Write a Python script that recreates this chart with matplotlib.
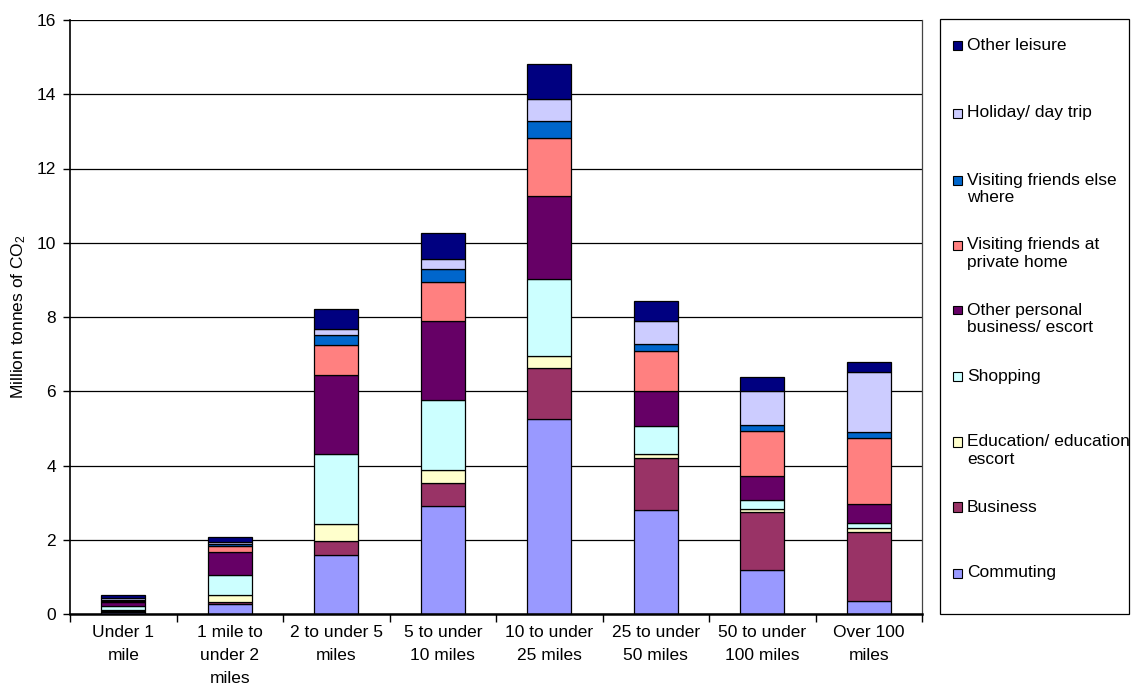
import matplotlib
matplotlib.use("Agg")
import matplotlib.pyplot as plt
import numpy as np
from matplotlib.patches import Rectangle

plt.rcParams["font.family"] = ["Liberation Sans", "DejaVu Sans"]
plt.rcParams["mathtext.default"] = "regular"

categories = [
    "Under 1\nmile",
    "1 mile to\nunder 2\nmiles",
    "2 to under 5\nmiles",
    "5 to under\n10 miles",
    "10 to under\n25 miles",
    "25 to under\n50 miles",
    "50 to under\n100 miles",
    "Over 100\nmiles",
]

# Emissions by journey purpose (million tonnes CO2), bottom of stack first
commuting       = [0.05, 0.26, 1.60, 2.91, 5.25, 2.81, 1.19, 0.35]
business        = [0.03, 0.07, 0.37, 0.62, 1.37, 1.38, 1.57, 1.87]
education       = [0.03, 0.19, 0.45, 0.36, 0.33, 0.11, 0.07, 0.09]
shopping        = [0.10, 0.52, 1.88, 1.88, 2.08, 0.76, 0.25, 0.15]
other_personal  = [0.10, 0.63, 2.13, 2.13, 2.24, 0.95, 0.65, 0.50]
friends_home    = [0.05, 0.15, 0.81, 1.03, 1.56, 1.08, 1.21, 1.77]
friends_else    = [0.03, 0.07, 0.27, 0.36, 0.45, 0.19, 0.16, 0.16]
holiday         = [0.03, 0.04, 0.18, 0.26, 0.58, 0.62, 0.91, 1.64]
other_leisure   = [0.08, 0.14, 0.52, 0.72, 0.96, 0.54, 0.37, 0.26]

series = [
    ("Commuting", commuting, "#9999FF"),
    ("Business", business, "#993366"),
    ("Education/ education\nescort", education, "#FFFFCC"),
    ("Shopping", shopping, "#CCFFFF"),
    ("Other personal\nbusiness/ escort", other_personal, "#660066"),
    ("Visiting friends at\nprivate home", friends_home, "#FF8080"),
    ("Visiting friends else\nwhere", friends_else, "#0066CC"),
    ("Holiday/ day trip", holiday, "#CCCCFF"),
    ("Other leisure", other_leisure, "#000080"),
]

W, H = 1133, 691
fig = plt.figure(figsize=(W / 100, H / 100), dpi=100)
ax = fig.add_axes([70 / W, 1 - 614 / H, (922 - 70) / W, (614 - 20) / H])

x = np.arange(len(categories))
bottom = np.zeros(len(categories))
for name, vals, color in series:
    vals = np.array(vals)
    ax.bar(x, vals, width=0.41, bottom=bottom, color=color,
           edgecolor="#000000", linewidth=0.9, zorder=3)
    bottom += vals

ax.set_xlim(-0.5, len(categories) - 0.5)
ax.set_ylim(0, 16)
ax.set_yticks(np.arange(0, 17, 2))
ax.set_xticks(x)
ax.set_xticklabels(categories, fontsize=12.5, linespacing=1.65)
ax.set_xticks(np.arange(-0.5, len(categories), 1), minor=True)
ax.tick_params(axis="x", which="major", length=0, pad=8)
ax.tick_params(axis="x", which="minor", length=6, width=1, direction="out", color="#000000")
ax.tick_params(axis="y", length=5, width=1, direction="out", labelsize=12.5, pad=5)

ax.yaxis.grid(True, color="#000000", linewidth=0.9, zorder=0)
ax.set_axisbelow(True)
ax.spines["top"].set_visible(False)
ax.spines["left"].set_color("#000000")
ax.spines["left"].set_linewidth(1.2)
ax.spines["bottom"].set_color("#000000")
ax.spines["bottom"].set_linewidth(1.8)
ax.spines["bottom"].set_zorder(4)
ax.spines["right"].set_color("#444444")
ax.spines["right"].set_linewidth(0.9)

ax.set_ylabel("Million tonnes of CO$_2$", fontsize=12.5, labelpad=6)

# Legend panel drawn in figure pixel space
def fx(px):
    return px / W

def fy(py):
    return 1 - py / H

fig.patches.append(Rectangle((fx(940), fy(614)), fx(1129) - fx(940), fy(19) - fy(614),
                             transform=fig.transFigure, facecolor="white",
                             edgecolor="#000000", linewidth=0.9))

legend_rows = [45, 113, 180, 245, 310, 376, 442, 507, 573]
for (name, vals, color), ypx in zip(series[::-1], legend_rows):
    fig.patches.append(Rectangle((fx(953), fy(ypx + 4.5)), fx(962) - fx(953), fy(ypx - 4.5) - fy(ypx + 4.5),
                                 transform=fig.transFigure, facecolor=color,
                                 edgecolor="#000000", linewidth=0.8))
    lines = name.split("\n")
    for i, line in enumerate(lines):
        fig.text(fx(967), fy(ypx + 18 * i), line, fontsize=12.5, va="center", ha="left")

fig.savefig("out.png", dpi=100)
